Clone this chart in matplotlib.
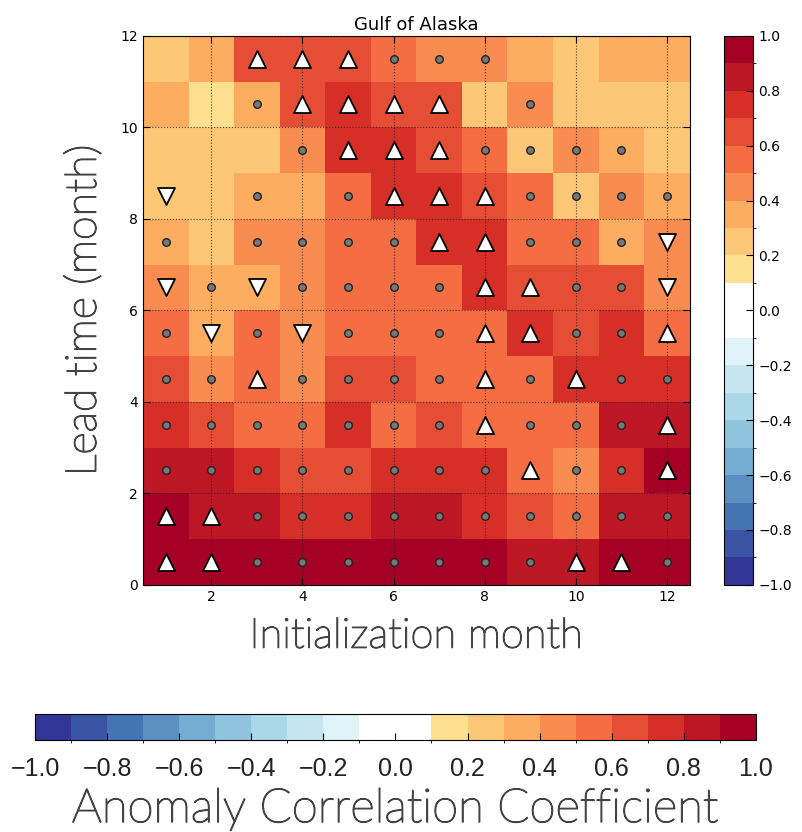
import numpy as np
import matplotlib
matplotlib.use('Agg')
import matplotlib.pyplot as plt
import matplotlib.patheffects as pe
from matplotlib import font_manager
from matplotlib.colors import ListedColormap, BoundaryNorm
from matplotlib.colorbar import ColorbarBase

# data: ACC per (lead time row, initialization month column), lead 0 first
init_months = [1, 2, 3, 4, 5, 6, 7, 8, 9, 10, 11, 12]
lead_times = [0, 1, 2, 3, 4, 5, 6, 7, 8, 9, 10, 11]
acc = [
    [.95, .95, .95, .95, .95, .95, .95, .95, .85, .85, .95, .95],
    [.95, .85, .85, .75, .75, .85, .85, .75, .65, .55, .85, .85],
    [.85, .85, .75, .65, .65, .75, .75, .75, .55, .45, .75, .95],
    [.75, .65, .55, .55, .75, .55, .65, .55, .55, .55, .85, .85],
    [.65, .45, .55, .45, .65, .65, .55, .55, .55, .75, .75, .75],
    [.55, .35, .55, .45, .55, .55, .55, .55, .75, .65, .75, .55],
    [.45, .35, .35, .45, .55, .55, .55, .75, .65, .65, .65, .45],
    [.35, .25, .45, .45, .55, .55, .75, .75, .55, .55, .35, .45],
    [.25, .25, .35, .35, .55, .75, .75, .65, .55, .25, .45, .35],
    [.25, .25, .25, .45, .75, .75, .65, .55, .25, .45, .35, .25],
    [.35, .15, .35, .65, .75, .65, .65, .25, .45, .25, .25, .25],
    [.25, .35, .65, .65, .65, .55, .45, .45, .35, .25, .35, .35],
]
# significance: u = better than persistence, d = worse, o = not different
sig = [
    ['u', 'u', 'o', 'o', 'o', 'o', 'o', 'o', 'o', 'u', 'u', 'o'],
    ['u', 'u', 'o', 'o', 'o', 'o', 'o', 'o', 'o', 'o', 'o', 'o'],
    ['o', 'o', 'o', 'o', 'o', 'o', 'o', 'o', 'u', 'o', 'o', 'u'],
    ['o', 'o', 'o', 'o', 'o', 'o', 'o', 'u', 'o', 'o', 'o', 'u'],
    ['o', 'o', 'u', 'o', 'o', 'o', 'o', 'u', 'o', 'u', 'o', 'o'],
    ['o', 'd', 'o', 'd', 'o', 'o', 'o', 'u', 'u', 'o', 'o', 'u'],
    ['d', 'o', 'd', 'o', 'o', 'o', 'o', 'u', 'u', 'o', 'o', 'd'],
    ['o', '', 'o', 'o', 'o', 'o', 'u', 'u', 'o', 'o', 'o', 'd'],
    ['d', '', 'o', '', 'o', 'u', 'u', 'u', 'o', 'o', 'o', 'o'],
    ['', '', '', 'o', 'u', 'u', 'u', 'o', 'o', 'o', 'o', ''],
    ['', '', 'o', 'u', 'u', 'u', 'u', '', 'o', '', '', ''],
    ['', '', 'u', 'u', 'u', 'o', 'o', 'o', '', '', '', ''],
]
cbar_ticks = [-1.0, -0.8, -0.6, -0.4, -0.2, 0.0, 0.2, 0.4, 0.6, 0.8, 1.0]
cbar_labels = ['%.1f' % t if t >= 0 else '\u2212%.1f' % abs(t) for t in cbar_ticks]

# colormap: RdYlBu_r in 20 bins, the two middle ones white
base = plt.get_cmap('RdYlBu_r')
cols = [base(v) for v in np.linspace(0, 0.4, 9)] + ['white', 'white'] + \
       [base(v) for v in np.linspace(0.6, 1.0, 9)]
cmap = ListedColormap(cols)
norm = BoundaryNorm(np.linspace(-1, 1, 21), cmap.N)

# thin font, thickened a little with a stroke
label_font = dict(family='Lato', fontweight='light', color='#444444',
                  path_effects=[pe.withStroke(linewidth=1.0, foreground='#444444')])

# narrow font for the bottom colorbar labels if there is one
try:
    font_manager.findfont('Liberation Sans Narrow', fallback_to_default=False)
    narrow, narrow_size = 'Liberation Sans Narrow', 19
except Exception:
    narrow, narrow_size = 'Liberation Sans', 18

fig = plt.figure(figsize=(8.03, 8.32), dpi=100)
ax = fig.add_axes([0.178, 0.297, 0.681, 0.66])

x_edges = np.arange(len(init_months) + 1) + 0.5
y_edges = np.arange(len(lead_times) + 1)
ax.pcolormesh(x_edges, y_edges, np.array(acc), cmap=cmap, norm=norm)

styles = {
    'u': dict(marker='^', s=150, facecolor='white', edgecolor='black', linewidths=1.3),
    'd': dict(marker='v', s=150, facecolor='white', edgecolor='black', linewidths=1.3),
    'o': dict(marker='o', s=30, facecolor='#777777', edgecolor='#222222', linewidths=1.0),
}
for code, st in styles.items():
    xs = [init_months[j] for i in range(len(lead_times)) for j in range(len(init_months)) if sig[i][j] == code]
    ys = [lead_times[i] + 0.5 for i in range(len(lead_times)) for j in range(len(init_months)) if sig[i][j] == code]
    ax.scatter(xs, ys, zorder=3, **st)

ax.set_xlim(0.5, 12.5)
ax.set_ylim(0, 12)
ax.set_xticks([2, 4, 6, 8, 10, 12])
ax.set_yticks([0, 2, 4, 6, 8, 10, 12])
ax.tick_params(direction='in', top=True, right=True, labelsize=10, length=5)
ax.grid(True, color='#222222', linestyle=':', linewidth=0.8, alpha=0.8)
ax.set_axisbelow(False)
ax.set_title('Gulf of Alaska', fontsize=13, pad=4)
ax.set_xlabel('Initialization month', fontsize=30, labelpad=10, **label_font)
ax.set_ylabel('Lead time (month)', fontsize=31, labelpad=12, **label_font)

# right colorbar
cax = fig.add_axes([0.902, 0.297, 0.036, 0.66])
cb = ColorbarBase(cax, cmap=cmap, norm=norm, ticks=cbar_ticks)
cb.ax.tick_params(labelsize=10, direction='in', length=5)
cb.ax.set_yticklabels(cbar_labels)

# bottom colorbar
bax = fig.add_axes([0.044, 0.11, 0.897, 0.032])
cb2 = ColorbarBase(bax, cmap=cmap, norm=norm, ticks=cbar_ticks, orientation='horizontal')
cb2.ax.tick_params(direction='in', length=5, pad=12)
cb2.ax.set_xticklabels(cbar_labels, fontsize=narrow_size, color='#222222', family=narrow)
cb2.set_label('Anomaly Correlation Coefficient', fontsize=34, labelpad=5, **label_font)

fig.savefig('out.png', dpi=100)
